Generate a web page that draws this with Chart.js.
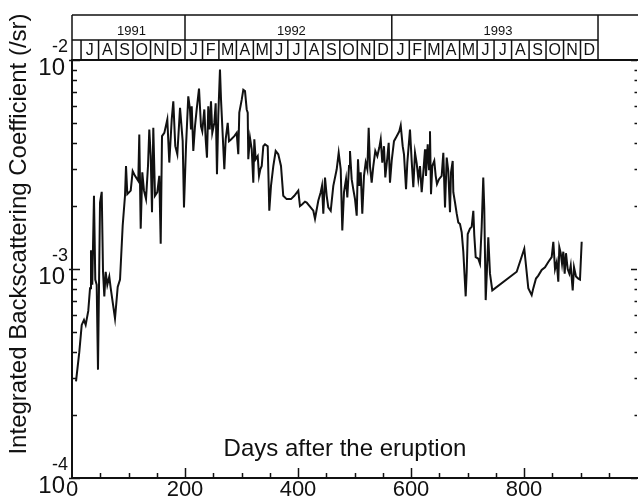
<!DOCTYPE html>
<html>
<head>
<meta charset="utf-8">
<script src="https://cdn.jsdelivr.net/npm/chart.js@4.4.1/dist/chart.umd.min.js"></script>
<style>
  html, body { margin: 0; padding: 0; background: #fff; }
  #wrap { position: absolute; left: 0; top: 0; width: 638px; height: 502px; }
</style>
</head>
<body>
<div id="wrap"><canvas id="bsChart"></canvas></div>
<script>
// Days after the Pinatubo eruption (15 June 1991)
const days = [
  7.1, 12.9, 17.2, 21.2, 24.2, 28.8, 31.9, 33.6, 35.9, 38.9, 41.2, 43.7, 46.0, 49.6, 52.6, 54.9,
  57.2, 59.6, 62.5, 66.0, 68.5, 76.1, 80.9, 85.0, 89.7, 93.8, 95.6, 97.9, 103.9, 107.4, 111.5,
  117.3, 119.1, 121.6, 124.4, 127.4, 131.0, 134.5, 136.8, 139.3, 141.6, 143.9, 146.9, 151.0,
  154.5, 157.0, 159.3, 163.4, 168.7, 172.2, 176.5, 179.3, 182.8, 186.4, 191.2, 195.9, 198.2,
  201.8, 205.8, 208.8, 210.6, 211.9, 214.7, 217.7, 220.7, 224.8, 228.3, 230.6, 234.2, 236.6,
  238.9, 241.2, 243.7, 246.0, 248.3, 251.9, 254.3, 256.6, 258.9, 261.9, 263.7, 266.0, 269.6,
  272.0, 275.6, 277.9, 281.4, 287.3, 291.5, 294.3, 296.1, 300.4, 303.2, 306.2, 309.2, 311.0,
  312.0, 315.0, 318.1, 320.9, 322.7, 325.1, 328.7, 331.0, 333.3, 335.8, 338.6, 341.6, 346.4,
  349.2, 352.2, 356.3, 360.5, 365.1, 369.9, 373.9, 379.9, 387.6, 393.5, 400.5, 403.5, 407.6,
  412.4, 415.4, 427.1, 430.1, 435.9, 440.2, 442.5, 444.8, 447.8, 450.8, 453.6, 457.9, 462.5,
  468.5, 472.0, 475.6, 478.4, 481.4, 485.0, 487.3, 490.3, 492.0, 495.0, 497.8, 500.9, 503.9,
  506.2, 508.5, 511.0, 513.8, 516.8, 519.8, 522.7, 525.1, 527.4, 530.4, 533.3, 536.8, 540.4,
  543.9, 546.4, 549.2, 552.2, 554.5, 558.1, 560.5, 562.8, 565.8, 569.9, 574.7, 579.3, 581.8,
  585.3, 587.6, 591.2, 593.5, 598.2, 601.2, 604.1, 607.1, 610.1, 613.0, 615.9, 618.9, 621.8,
  624.8, 626.5, 629.6, 631.9, 633.6, 635.4, 637.7, 641.2, 643.7, 646.0, 649.6, 654.3, 657.2,
  660.2, 663.2, 666.0, 669.0, 670.8, 673.8, 674.9, 677.9, 680.9, 683.7, 686.7, 689.7, 692.6,
  696.8, 698.6, 700.4, 704.4, 707.4, 710.3, 712.0, 714.5, 719.1, 722.1, 725.1, 727.9, 729.7,
  732.2, 734.5, 736.8, 739.8, 743.9, 787.1, 800.5, 807.6, 813.6, 816.5, 821.2, 825.3, 831.3,
  837.2, 843.0, 849.0, 851.9, 854.9, 857.9, 860.7, 862.5, 865.0, 867.3, 869.6, 872.0, 874.3,
  877.3, 880.2, 882.7, 886.2, 888.5, 892.0, 896.1, 899.1, 902.1
];

// Integrated backscattering coefficient (/sr)
const backscatter = [
  2.9e-4, 4.0e-4, 5.4e-4, 5.7e-4, 5.4e-4, 6.3e-4, 8.1e-4, 1.23e-3, 8.4e-4, 2.24e-3, 8.9e-4, 8.4e-4, 3.3e-4, 2.08e-3, 2.34e-3, 9.7e-4,
  7.4e-4, 9.7e-4, 8.4e-4, 9.2e-4, 8.1e-4, 5.8e-4, 8.2e-4, 8.9e-4, 1.61e-3, 2.24e-3, 3.11e-3, 2.28e-3, 2.37e-3, 2.94e-3, 2.79e-3,
  2.64e-3, 4.4e-3, 1.56e-3, 2.9e-3, 2.37e-3, 2.16e-3, 3.11e-3, 4.65e-3, 3.47e-3, 1.87e-3, 4.74e-3, 2.24e-3, 2.33e-3,
  2.79e-3, 1.32e-3, 4.32e-3, 4.48e-3, 5.19e-3, 3.23e-3, 5.19e-3, 6.34e-3, 3.87e-3, 3.54e-3, 5.9e-3, 4.09e-3, 1.97e-3,
  3.87e-3, 6.7e-3, 5.8e-3, 4.65e-3, 6.0e-3, 3.67e-3, 4.82e-3, 5.8e-3, 7.3e-3, 4.82e-3, 4.56e-3, 5.8e-3, 4.17e-3,
  3.41e-3, 6.0e-3, 4.65e-3, 6.34e-3, 4.48e-3, 5.0e-3, 6.2e-3, 2.84e-3, 5.4e-3, 9.0e-3, 6.5e-3, 4.82e-3, 3.0e-3,
  4.17e-3, 5.0e-3, 4.09e-3, 4.17e-3, 4.32e-3, 4.48e-3, 3.54e-3, 5.6e-3, 6.46e-3, 7.2e-3, 7.1e-3, 5.8e-3, 5.6e-3,
  3.35e-3, 4.25e-3, 3.74e-3, 2.59e-3, 4.17e-3, 3.35e-3, 3.47e-3, 2.79e-3, 3.0e-3, 3.11e-3, 3.87e-3, 3.95e-3, 3.87e-3,
  1.9e-3, 2.5e-3, 3.11e-3, 3.67e-3, 3.54e-3, 3.11e-3, 2.24e-3, 2.16e-3, 2.16e-3, 2.24e-3, 2.37e-3, 2.0e-3, 2.04e-3,
  2.1e-3, 2.08e-3, 1.9e-3, 1.74e-3, 2.12e-3, 2.33e-3, 2.5e-3, 1.84e-3, 2.74e-3, 2.24e-3, 1.97e-3, 1.9e-3, 2.5e-3,
  3.0e-3, 3.6e-3, 3.0e-3, 1.53e-3, 2.33e-3, 2.69e-3, 2.2e-3, 3.11e-3, 3.67e-3, 2.69e-3, 2.41e-3, 2.16e-3, 1.8e-3,
  3.35e-3, 2.5e-3, 2.9e-3, 1.84e-3, 2.79e-3, 3.23e-3, 3.0e-3, 4.74e-3, 3.11e-3, 2.59e-3, 3.11e-3, 3.67e-3, 3.47e-3,
  3.81e-3, 4.17e-3, 3.23e-3, 3.87e-3, 2.74e-3, 3.41e-3, 4.02e-3, 2.59e-3, 3.29e-3, 4.09e-3, 4.32e-3, 4.56e-3, 4.86e-3,
  3.87e-3, 3.54e-3, 2.41e-3, 3.23e-3, 4.65e-3, 3.29e-3, 2.46e-3, 3.6e-3, 3.2e-3, 2.69e-3, 3.11e-3, 2.33e-3, 2.9e-3,
  3.74e-3, 2.79e-3, 3.95e-3, 3.0e-3, 4.56e-3, 2.28e-3, 3.11e-3, 3.29e-3, 2.79e-3, 2.55e-3, 2.69e-3, 2.79e-3, 3.6e-3,
  1.97e-3, 3.41e-3, 2.94e-3, 1.87e-3, 2.9e-3, 3.29e-3, 2.33e-3, 2.08e-3, 1.84e-3, 1.67e-3, 1.64e-3, 1.5e-3, 1.21e-3,
  7.4e-4, 9.7e-4, 1.47e-3, 1.56e-3, 1.59e-3, 1.9e-3, 1.45e-3, 1.14e-3, 1.12e-3, 1.06e-3, 1.59e-3, 2.74e-3, 1.94e-3,
  7.1e-4, 1.0e-3, 1.42e-3, 9.5e-4, 7.9e-4, 9.7e-4, 1.25e-3, 8.1e-4, 7.5e-4, 8.1e-4, 9.0e-4, 9.3e-4, 9.9e-4,
  1.02e-3, 1.08e-3, 1.14e-3, 1.35e-3, 1.0e-3, 1.08e-3, 8.7e-4, 1.27e-3, 1.19e-3, 1.06e-3, 1.21e-3, 9.5e-4, 1.19e-3,
  1.0e-3, 9.5e-4, 1.04e-3, 7.9e-4, 1.02e-3, 9.2e-4, 9.0e-4, 8.9e-4, 1.35e-3
];

// y decade exponents shown on the left axis
const yExponents = [-2, -3, -4];

// calendar strip across the top
const years = ['1991', '1992', '1993'];
const yearStarts = [0, 200, 566, 931];
const months = ['', 'J', 'A', 'S', 'O', 'N', 'D',
  'J', 'F', 'M', 'A', 'M', 'J', 'J', 'A', 'S', 'O', 'N', 'D',
  'J', 'F', 'M', 'A', 'M', 'J', 'J', 'A', 'S', 'O', 'N', 'D'];
const monthStarts = [0, 16, 47, 78, 108, 139, 169,
  200, 231, 260, 291, 321, 352, 382, 413, 444, 474, 505, 535,
  566, 597, 625, 656, 686, 717, 747, 778, 809, 839, 870, 900, 931];

const ink = '#111';
const fontFamily = '"Liberation Sans", Arial, Helvetica, sans-serif';
Chart.defaults.font.family = fontFamily;

// Draws the frame, inward ticks, decade labels, titles and the month strip
const decorations = {
  id: 'decorations',
  afterDraw(chart) {
    const { ctx, chartArea: a, scales: { x, y } } = chart;
    ctx.save();
    ctx.strokeStyle = ink;
    ctx.fillStyle = ink;
    ctx.lineCap = 'butt';

    // frame
    ctx.lineWidth = 2;
    ctx.beginPath();
    ctx.moveTo(a.left, a.top - 1);
    ctx.lineTo(a.left, a.bottom);
    ctx.lineTo(a.right + 1, a.bottom);
    ctx.moveTo(a.left, a.top);
    ctx.lineTo(a.right + 1, a.top);
    ctx.stroke();

    // x ticks every 50 days, pointing up
    ctx.lineWidth = 1.5;
    ctx.beginPath();
    for (let d = 50; d < 1000; d += 50) {
      const px = Math.round(x.getPixelForValue(d)) + 0.5;
      const len = d % 200 === 0 ? 10 : 5;
      ctx.moveTo(px, a.bottom);
      ctx.lineTo(px, a.bottom - len);
    }
    ctx.stroke();

    // log ticks on both sides
    ctx.beginPath();
    for (let e = -4; e <= -2; e++) {
      for (let m = 1; m < 10; m++) {
        if (e === -2 && m > 1) break;
        const py = Math.round(y.getPixelForValue(m * Math.pow(10, e))) + 0.5;
        const major = m === 1;
        ctx.moveTo(a.left - (major ? 3 : 0), py);
        ctx.lineTo(a.left + (major ? 8 : 5), py);
        ctx.moveTo(a.right, py);
        ctx.lineTo(a.right - (major ? 6 : 2.5), py);
      }
    }
    ctx.stroke();

    // decade labels 10^n
    yExponents.forEach(e => {
      const py = y.getPixelForValue(Math.pow(10, e));
      ctx.textAlign = 'right';
      ctx.textBaseline = 'middle';
      ctx.font = '24px ' + fontFamily;
      ctx.fillText('10', 65, py + 8);
      ctx.font = '18px ' + fontFamily;
      ctx.fillText(String(e), 68, py - 13);
    });

    // axis titles
    ctx.font = '24px ' + fontFamily;
    ctx.textAlign = 'center';
    ctx.textBaseline = 'alphabetic';
    ctx.fillText('Days after the eruption', 345, 456);
    ctx.save();
    ctx.translate(26, 234);
    ctx.rotate(-Math.PI / 2);
    ctx.fillText('Integrated Backscattering Coefficient (/sr)', 0, 0);
    ctx.restore();

    // calendar strip
    const top = 15, mid = 40, bot = a.top;
    const endX = x.getPixelForValue(yearStarts[yearStarts.length - 1]);
    ctx.lineWidth = 1.5;
    ctx.beginPath();
    ctx.moveTo(a.left, top);
    ctx.lineTo(a.right + 1, top);
    ctx.moveTo(a.left, mid);
    ctx.lineTo(endX, mid);
    yearStarts.forEach(d => {
      const px = x.getPixelForValue(d);
      ctx.moveTo(px, top);
      ctx.lineTo(px, bot);
    });
    monthStarts.forEach(d => {
      const px = x.getPixelForValue(d);
      ctx.moveTo(px, mid);
      ctx.lineTo(px, bot);
    });
    ctx.stroke();

    ctx.textAlign = 'center';
    ctx.textBaseline = 'middle';
    ctx.font = '13px ' + fontFamily;
    years.forEach((yr, i) => {
      const cx = (x.getPixelForValue(yearStarts[i]) + x.getPixelForValue(yearStarts[i + 1])) / 2;
      ctx.fillText(yr, cx + 3, 31);
    });
    ctx.font = '16px ' + fontFamily;
    months.forEach((m, i) => {
      if (!m) return;
      const cx = (x.getPixelForValue(monthStarts[i]) + x.getPixelForValue(monthStarts[i + 1])) / 2;
      ctx.fillText(m, cx, 50.5);
    });

    ctx.restore();
  }
};

new Chart(document.getElementById('bsChart'), {
  type: 'line',
  data: {
    datasets: [{
      data: days.map((d, i) => ({ x: d, y: backscatter[i] })),
      borderColor: ink,
      borderWidth: 2,
      pointRadius: 0,
      tension: 0,
      fill: false
    }]
  },
  options: {
    responsive: true,
    maintainAspectRatio: false,
    animation: false,
    events: [],
    layout: { padding: { left: 72, top: 60, right: 1, bottom: 0 } },
    plugins: { legend: { display: false }, tooltip: { enabled: false } },
    scales: {
      x: {
        type: 'linear',
        min: 0,
        max: 1000,
        grid: { display: false, drawTicks: false },
        border: { display: false },
        ticks: {
          stepSize: 200,
          padding: 1,
          color: ink,
          font: { size: 22, lineHeight: 1 },
          maxRotation: 0,
          callback: v => (v < 1000 ? String(v) : '')
        }
      },
      y: {
        type: 'logarithmic',
        min: 1e-4,
        max: 1e-2,
        grid: { display: false, drawTicks: false },
        border: { display: false },
        ticks: { display: false }
      }
    }
  },
  plugins: [decorations]
});
</script>
</body>
</html>
